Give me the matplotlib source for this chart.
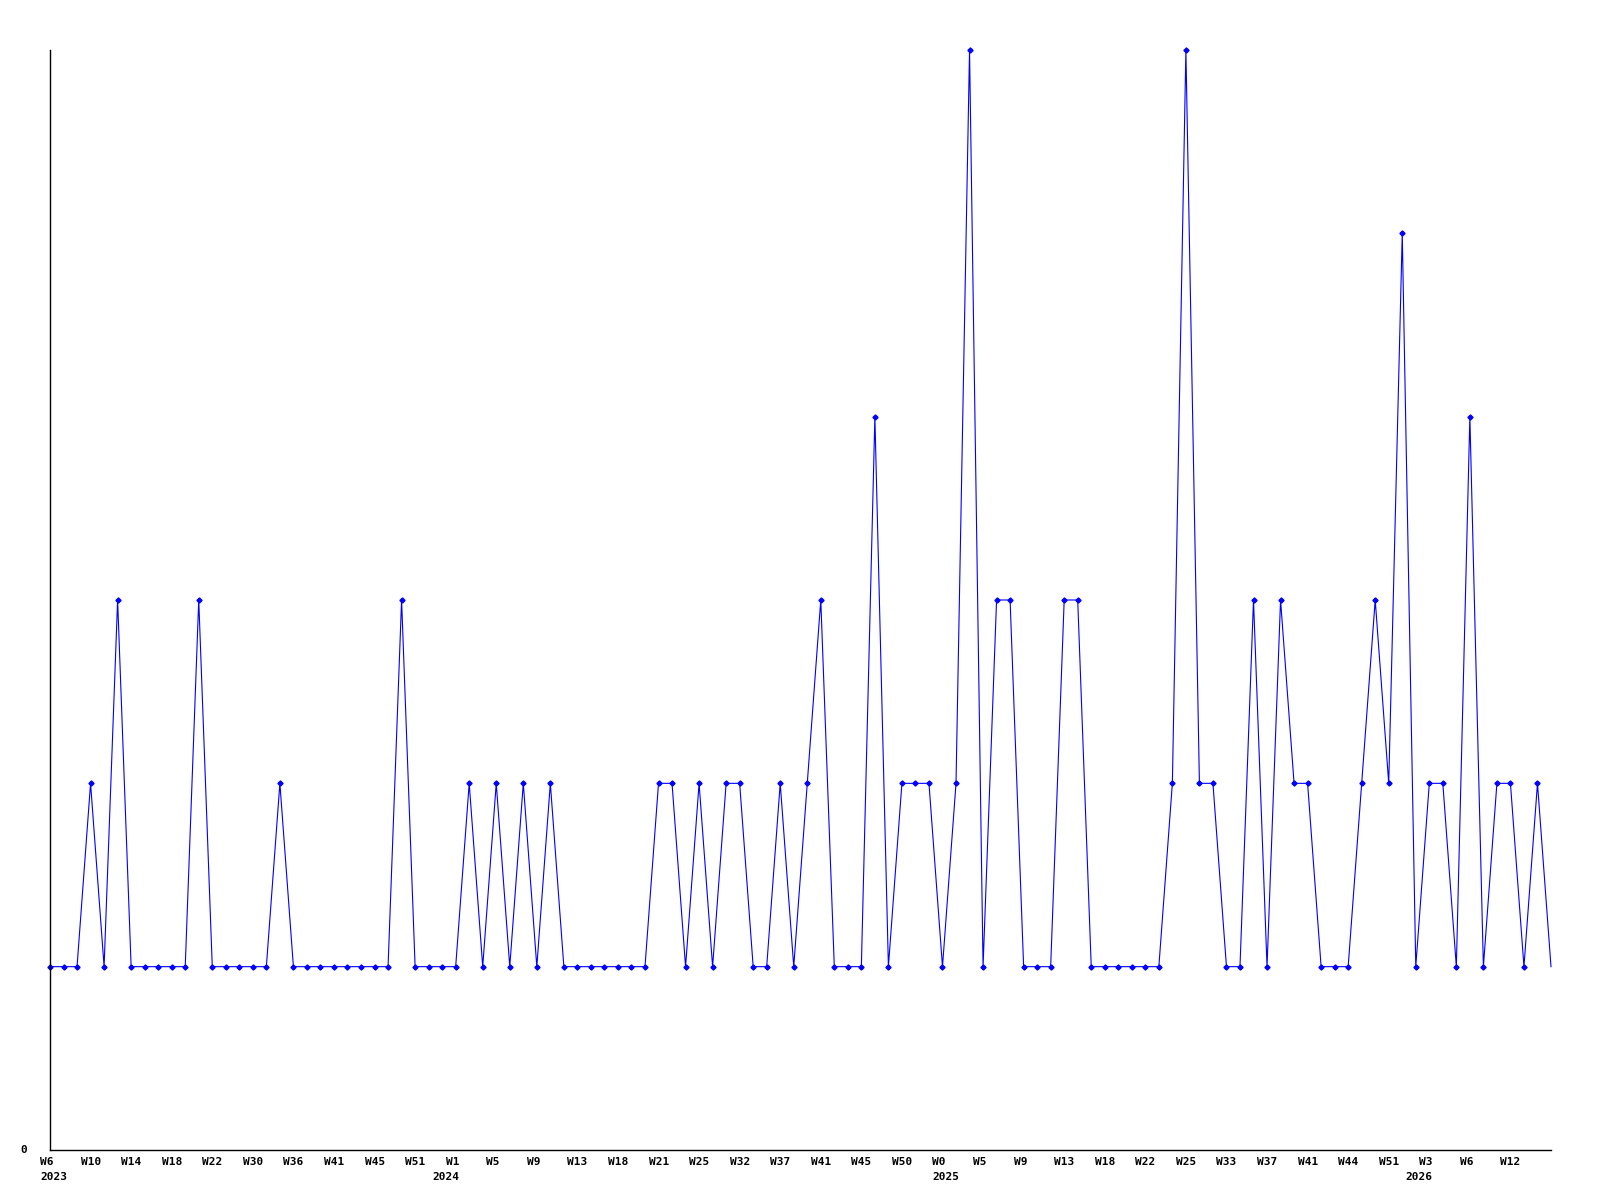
import matplotlib
matplotlib.use("Agg")
import matplotlib.pyplot as plt
from matplotlib.transforms import offset_copy

# Weekly values (one point per week)
values = [1, 1, 1, 2, 1, 3, 1, 1, 1, 1, 1, 3, 1, 1, 1, 1, 1, 2, 1, 1,
          1, 1, 1, 1, 1, 1, 3, 1, 1, 1, 1, 2, 1, 2, 1, 2, 1, 2, 1, 1,
          1, 1, 1, 1, 1, 2, 2, 1, 2, 1, 2, 2, 1, 1, 2, 1, 2, 3, 1, 1,
          1, 4, 1, 2, 2, 2, 1, 2, 6, 1, 3, 3, 1, 1, 1, 3, 3, 1, 1, 1,
          1, 1, 1, 2, 6, 2, 2, 1, 1, 3, 1, 3, 2, 2, 1, 1, 1, 2, 3, 2,
          5, 1, 2, 2, 1, 4, 1, 2, 2, 1, 2, 1]

# Tick labels, one every third point
week_labels = ["W6", "W10", "W14", "W18", "W22", "W30", "W36", "W41", "W45", "W51",
               "W1", "W5", "W9", "W13", "W18", "W21", "W25", "W32", "W37", "W41",
               "W45", "W50", "W0", "W5", "W9", "W13", "W18", "W22", "W25", "W33",
               "W37", "W41", "W44", "W51", "W3", "W6", "W12"]
label_step = 3

# Year labels and the point index where each year starts
years = ["2023", "2024", "2025", "2026"]
year_start_index = [0, 29, 66, 101]

fig = plt.figure(figsize=(16, 12), dpi=100)
ax = fig.add_axes([50 / 1600, 50 / 1200, 1501 / 1600, 1100 / 1200])

x = list(range(len(values)))
ax.plot(x, values, color="#0000ff", linewidth=0.8, marker="D", markersize=2.6,
        markevery=list(range(len(values) - 1)), clip_on=False)

ax.set_xlim(0, len(values) - 1)
ax.set_ylim(0, 6)
for s in ["top", "right"]:
    ax.spines[s].set_visible(False)
for s in ["left", "bottom"]:
    ax.spines[s].set_linewidth(1.0)
    ax.spines[s].set_color("black")
ax.set_xticks([])
ax.set_yticks([])

font = dict(family="DejaVu Sans Mono", fontweight="bold", fontsize=8, color="black")

tl = offset_copy(ax.transData, fig=fig, x=-10, y=-7, units="dots")
for k, lab in enumerate(week_labels):
    ax.text(k * label_step, 0, lab, transform=tl, ha="left", va="top", clip_on=False, **font)

yl = offset_copy(ax.transData, fig=fig, x=-10, y=-22, units="dots")
for yr, idx in zip(years, year_start_index):
    ax.text(idx, 0, yr, transform=yl, ha="left", va="top", clip_on=False, **font)

zl = offset_copy(ax.transData, fig=fig, x=-30, y=0, units="dots")
ax.text(0, 0, "0", transform=zl, ha="left", va="center", clip_on=False, **font)

fig.savefig("out.png", dpi=100, facecolor="white")
